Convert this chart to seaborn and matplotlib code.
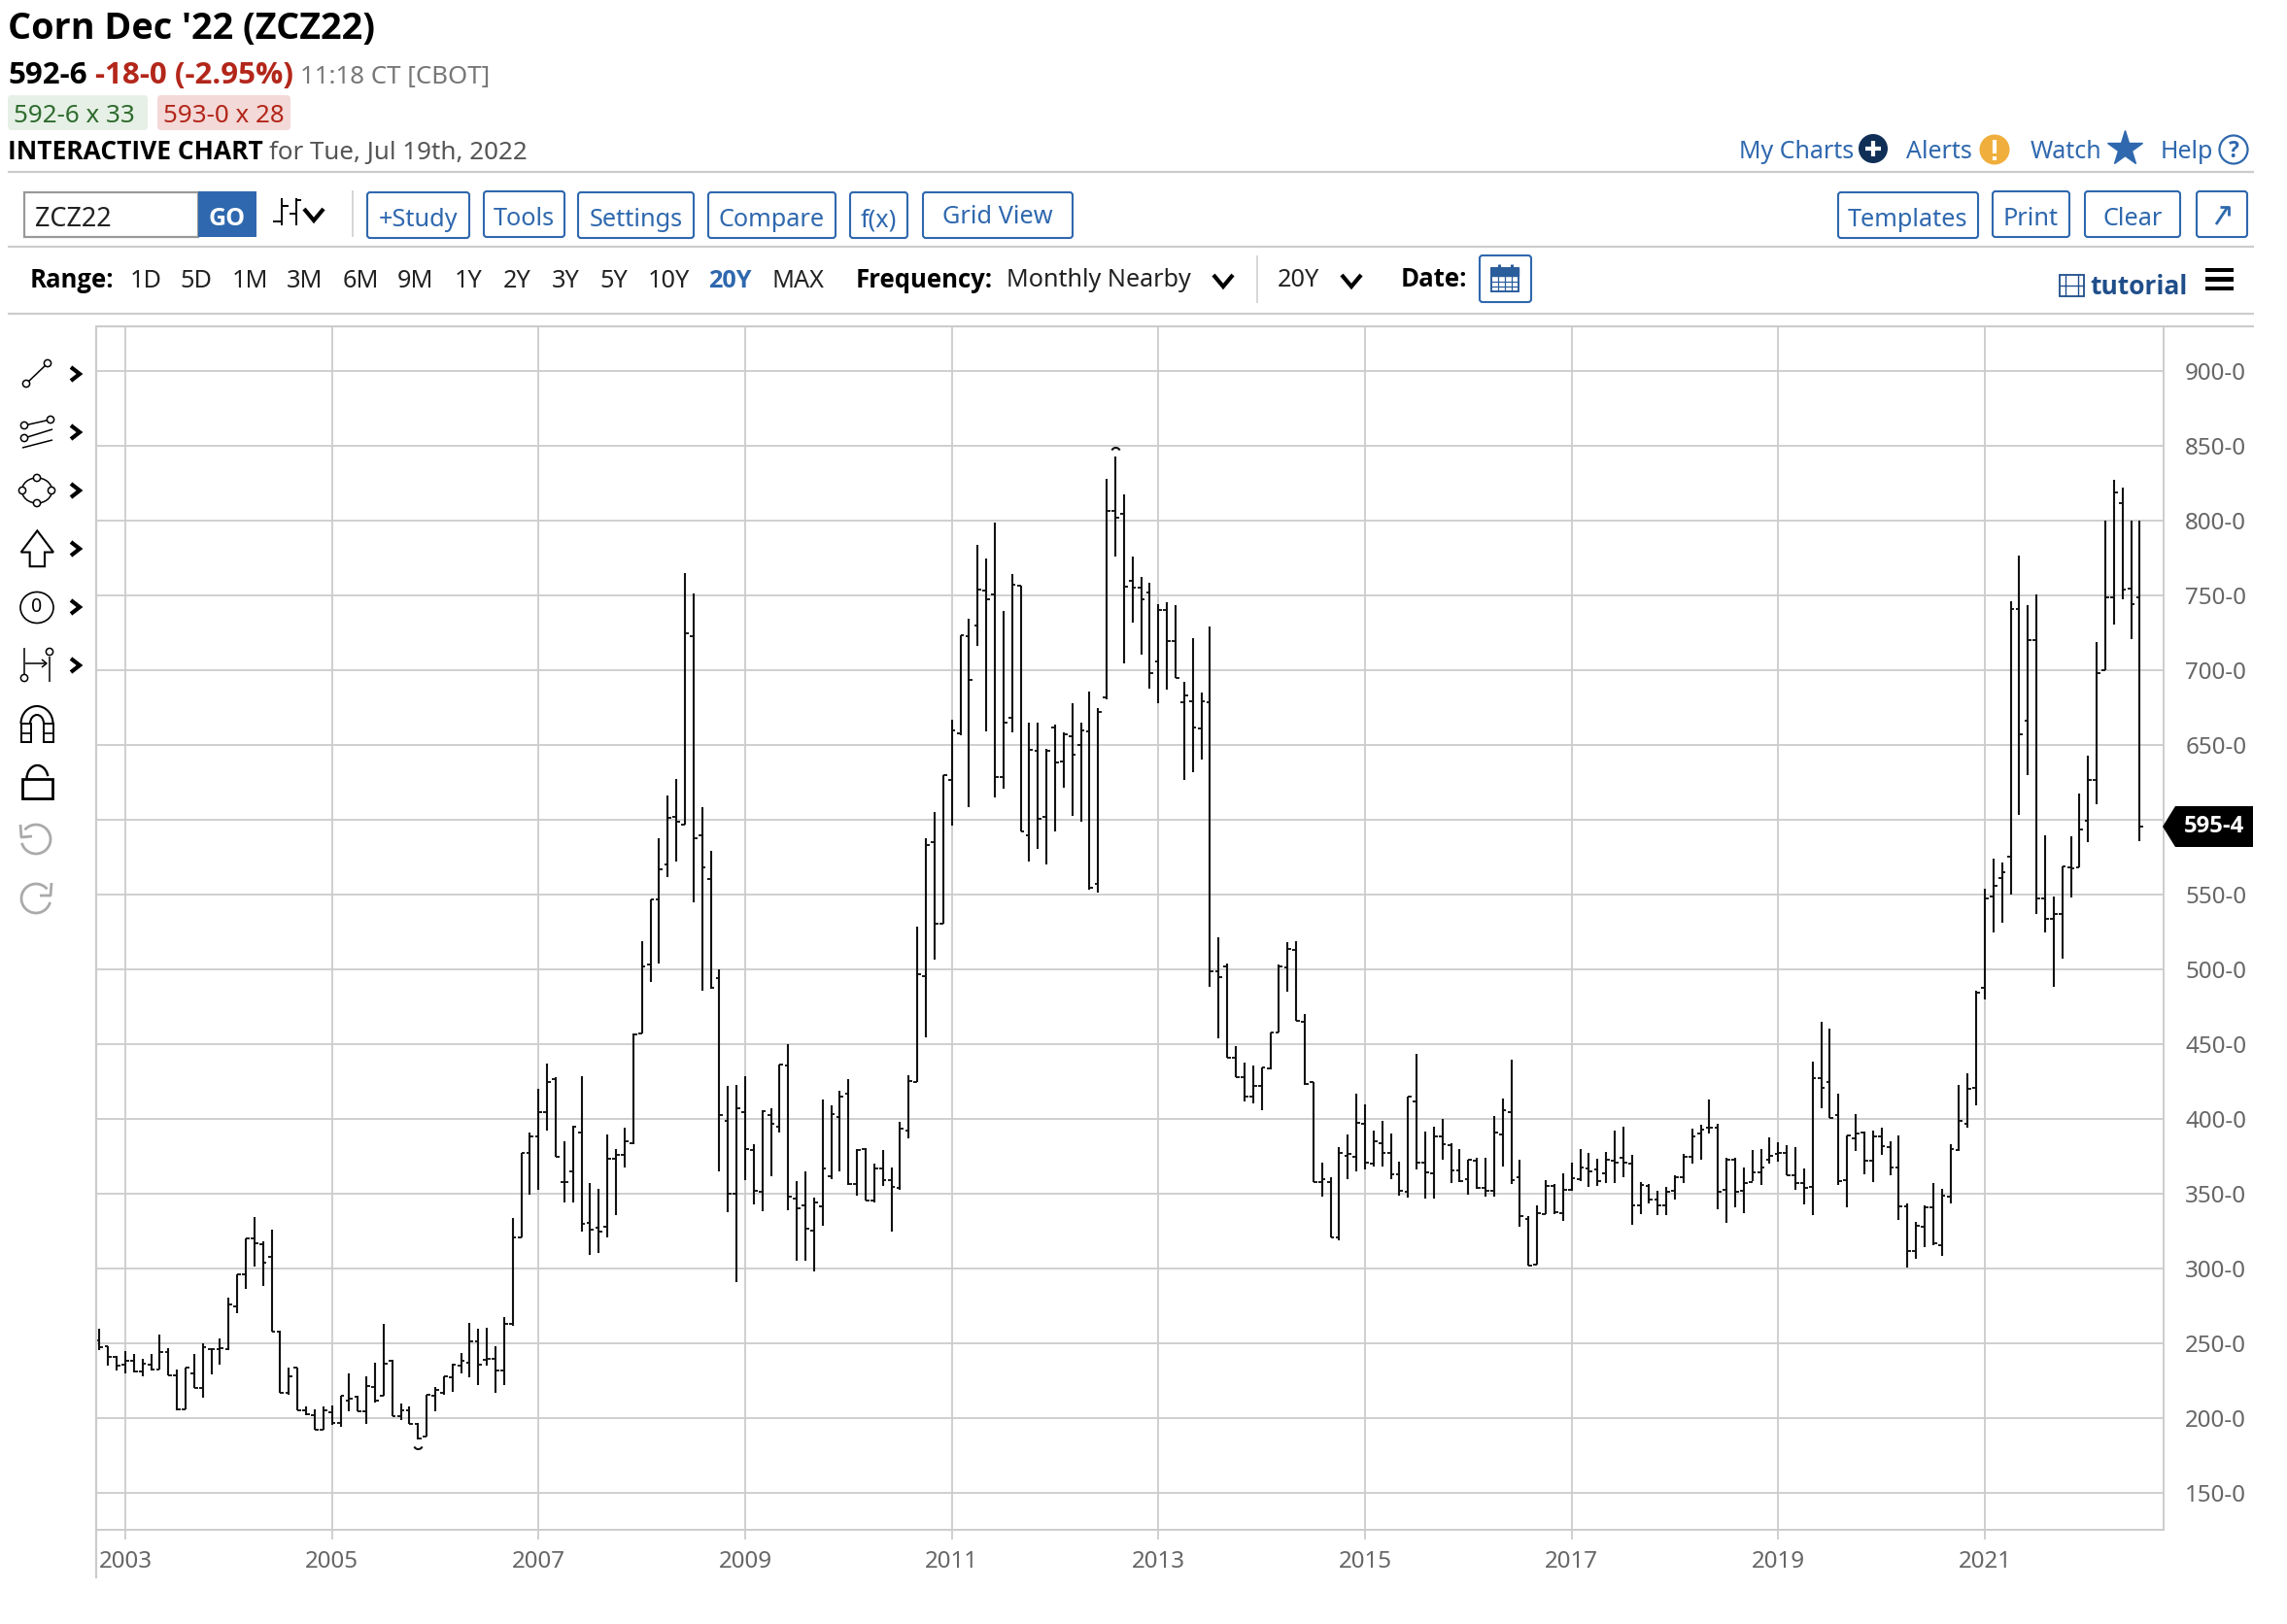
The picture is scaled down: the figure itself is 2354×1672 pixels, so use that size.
import numpy as np
import pandas as pd
import seaborn as sns
import matplotlib
matplotlib.use("Agg")
import matplotlib.pyplot as plt
from matplotlib import font_manager
from matplotlib import patheffects as pe
from matplotlib.path import Path
from matplotlib.patches import Circle, Ellipse, FancyBboxPatch, Polygon, Rectangle, Arc

opens = [252,248,241,235.7,238,231,236,232.5,244,228.6,
206,230,220,246,246,246,274.7,296,320,316,
307.6,258,217,233.5,205.4,202,192.4,204,196.7,212,
214,204.7,221,214.7,238,201,205.4,196,187.4,215,
216.7,227,235,237,251,239,239.6,232,262.8,320.8,
377,388,404.6,426.5,357.6,365,390.7,330.5,327,327.8,
373.5,375.8,384,457,503.3,547,570,602,597,722.5,
589.4,560.6,494,399,350.3,404.6,379,351,402.3,394.7,
435.4,346.7,342.4,325.5,341.7,362,401.3,416.6,356.6,380,
345.4,366.9,359.3,353.6,392.4,424.8,495.7,585,530.8,626.5,
658,722.5,730,753.3,750.6,628.8,668,756.4,589.7,646,
602,662,639,655.8,649.7,659.3,557.2,681.9,806.5,804.8,
760,755,751.7,705.7,740,719.3,678.7,679,661,678.4,
499,501.9,441,428,415,422,433.8,458,501,513,
465,424.7,358,357.6,320.8,375.3,374.5,397,370,383.5,
377.5,363,351.5,412,370.6,363.4,388.5,382.5,365.8,359.7,
372.3,354,352,389.6,404.8,360.8,333,302.4,336.4,355,
337,352.6,360,367,366,363.6,372.3,373.8,370,342.4,
355.4,346.3,342,352,361.3,374.9,390,394,394.4,352.8,
373,352,357.6,364,373,376.4,377,362.4,357.4,354.3,
427,424.7,402.4,359,387.3,391,372,388.5,381.4,367.3,
341.8,311.9,328,341,315.9,348,379,396.5,420.6,487.7,
549,560.8,575.4,740.6,666.4,720,547.3,534,536.9,568,
568,599.5,626.5,700,748.7,812,754.3,748.5]

highs = [259.5,248,241.5,245,243,239.4,243,255.6,246.5,232.5,
234,243,250,246.5,253,280.7,296,320,334.6,318,
326,258.4,234,233.5,208,206,208,208.6,214.7,229.7,
214.7,227.7,237,262.8,239,209.7,208,196.7,215.8,221,
228,236.4,243.7,263.9,259.5,260.6,248,267.5,333.5,377,
391,420,437,428,385,395.7,428.5,357,353.3,389.7,
380,394,457,519,547,587.7,616,627,765,751,
608.6,579.5,500,421.9,423,428.8,383,405.6,407.3,436.4,
450.3,358.6,365,347.7,413,409,418.9,426.5,379.8,380.8,
370,379,367.5,398,429.5,528.8,587.7,605,629.8,667,
723.5,734.4,783.8,775,799,739.6,764.5,756.4,665,665,
647.7,663.6,658.4,678,665,685.4,675,828,843,817.8,
775.8,762.5,758.7,744,745.7,743.6,692,721.6,684.8,729.4,
521.6,503.6,449,437.5,436,434.6,458,503,518,519,
470,424.7,370.6,360.8,381.4,389.4,417,410,392,399,
390,371.6,415,443.5,391.8,395,400,383.5,380,373,
373.8,374,402,413.9,439.4,373,334.8,342.4,359.3,356.5,
363.4,371,380,377.5,373.4,377.7,392,394.8,376,358,
356.5,352,354.3,362.5,376.6,393.7,396,412.8,397,374,
373.8,367.3,379,379.7,387.9,384.6,382.5,381,366.7,438.3,
464.7,460.4,417,389,403,391.8,392,394.4,385.3,389,
343.5,331,342.4,357,353,383,422.5,430.7,485.6,553.8,
574,571.7,746.4,776.6,743.4,750.6,589.3,548.7,569,589,
617.6,642.7,718.6,800,827,822,800,800]

lows = [245.5,235,232,230,230.7,228,232,232.5,228.6,205.4,
206,220,213.4,229,235.7,245.5,270,286.6,301,288,
258,217,215.6,205.4,201.7,192,192,195.7,194,204.3,
204.3,196,210.4,214.7,201,199,196,186,187.4,204.8,
215.6,217.7,230,227,222,235,217,222,262,320.6,
349.4,352.6,392.4,374.8,344.4,344.4,324.5,309,310.6,321,
336,367.5,383.4,457,491.7,504,562,572,597,544.7,
485.8,486.8,365,337.7,290.7,359.3,342.7,338.4,361.6,390.7,
338.7,305.3,305.3,298,328.5,360,365,356,349,345.4,
344.4,355,325,352.6,386.8,424.8,454.6,506.6,530.8,596,
656.6,608.6,716,659,615,620.7,658.4,592,572,580.4,
570,592,621.6,602.8,599,553.5,551,680.5,776,704.8,
732,710.6,687.4,678,687,695,626.5,632,640.4,488,
454,441,428,411.4,410.6,406,433,457.8,485,465.6,
423,357.6,348,320.8,318.6,359.7,365,366,368,368,
359.7,349,347.6,366,347,347,372.7,357,357.6,349.4,
353,348,348,368,356.5,327.7,302,302.4,336.4,336.6,
331.6,352,358.7,354.3,355,357,357,360.8,329.4,336.6,
343.5,336,336,346,357,370,372.7,390.5,339.6,330.5,
341,337,358.3,355.8,370,371.6,362.4,352.8,342.9,336,
407.4,400.9,355.8,340.7,378.8,363,357.6,376,362.4,332.7,
300.6,306.3,314.3,315.5,308.2,343.5,378.5,394,409.4,479.6,
524.8,531.3,550,603,630,537,524.4,488,507.4,548,
568,585,610.7,700,730.6,747.6,721,585.8]

closes = [247.6,240.7,235,238,231.4,236.3,232.5,244,228.6,206,
233.5,220,247.6,246,246.5,276,296,320,317,304,
258,217,228,205.4,202.6,192.4,205,196.7,214.7,213,
204.7,221.6,212,236.4,201.5,205.4,196,186.6,215.6,219,
228,236,238,251,235.7,239.4,232,262.8,320.8,377,
388,404.5,425,374.8,357.6,394.7,330,326,324.5,373.5,
375.8,385,456.3,501.7,547,567,601,599,725,587.7,
568.5,487.7,402.3,350.3,407.3,379.8,351.7,405,396.7,436.4,
348.3,340,326.8,344.4,366.6,403.3,415,356.6,379,345.4,
366.9,359.3,354.3,393.4,425.5,496.7,582.8,530.5,629.8,659.6,
723.5,693.7,754,747.7,628.8,665,757,592,646.8,600.7,
646,638.4,657,643.3,660,554.3,672.3,806.5,802,755.8,
755.5,747.7,698,740,719.3,695,683,662,679,499,
494.6,441,428,415,422,434.6,458,501.9,513.5,465.6,
423.6,357.6,359.7,320.8,377.5,376.4,397.6,370.6,385,377,
363,352,415,371,364.5,388.5,383,365.6,358.7,372.7,
354,352,391,405.6,359.3,335.3,302,337,355.4,337.4,
352.6,360.4,367.3,364.7,358.7,372.7,371,371,342.4,355.8,
346.3,342,351.5,361.3,374.9,388.5,392.9,394.4,351,373,
351.5,357,364,367.3,375.5,377,362.4,357.4,353.9,427.5,
421,400.9,358.7,389,390.5,372,388.5,382,367.3,341.3,
311.9,328.6,341,316.7,349,379.6,399,420,484.6,547.3,
555.7,564.7,740.6,657,720.4,547.3,534,536.9,569,567.7,
593.7,626.5,698,749,818.8,754,744,595.6]

month_index = np.arange(len(opens)) - 3   # months after Jan 2003 (first bar Oct 2002)
year_ticks = list(range(0, 217, 24))
year_labels = [str(2003 + m // 12) for m in year_ticks]
price_ticks = list(range(150, 901, 50))
price_labels = [f"{p}-0" for p in price_ticks]
last_price_label = "595-4"
extreme_low = (34, 182.5)
extreme_high = (115, 845.8)

GRID = "#cccccc"
BLUE = "#2f68ae"
INK = "#111111"
W, H = 2354, 1672

sns.set_theme(style="white")
plt.rcParams["font.family"] = ["Noto Sans", "DejaVu Sans"]

# a family that really ships a bold face and looks like the reference's Noto Sans
_bold_names = {f.name for f in font_manager.fontManager.ttflist
               if (f.weight if isinstance(f.weight, int) else 700 if f.weight == "bold" else 400) >= 700}
BOLD_FAMILY = next((n for n in ("Noto Sans", "Open Sans", "Lato", "Roboto") if n in _bold_names), None)

fig = plt.figure(figsize=(W / 100, H / 100), dpi=100, facecolor="white")
ax = fig.add_axes([99 / W, 1 - 1575 / H, (2227 - 99) / W, (1575 - 336) / H])

bars = pd.DataFrame({"m": month_index, "o": opens, "h": highs, "l": lows, "c": closes})
stems = pd.concat([
    bars.assign(x=bars.m.astype(float), y=bars.h),
    bars.assign(x=bars.m.astype(float), y=bars.l),
])
tick_off = 0.42
open_ticks = pd.concat([
    bars.assign(x=bars.m - tick_off, y=bars.o),
    bars.assign(x=bars.m.astype(float), y=bars.o),
])
close_ticks = pd.concat([
    bars.assign(x=bars.m.astype(float), y=bars.c),
    bars.assign(x=bars.m + tick_off, y=bars.c),
])
sns.lineplot(data=stems, x="x", y="y", units="m", estimator=None, color=INK,
             linewidth=1.5, ax=ax, legend=False, solid_capstyle="butt", zorder=3)
for frame in (open_ticks, close_ticks):
    sns.lineplot(data=frame, x="x", y="y", units="m", estimator=None, color=INK,
                 linewidth=1.35, ax=ax, legend=False, solid_capstyle="butt", zorder=3)

ax.plot([extreme_low[0]], [extreme_low[1]], marker=Path.arc(205, 335), ms=6.5, mfc="none",
        mec=INK, mew=1.5, ls="none", zorder=3)
ax.plot([extreme_high[0]], [extreme_high[1]], marker=Path.arc(25, 155), ms=6.5, mfc="none",
        mec=INK, mew=1.5, ls="none", zorder=3)

ax.set_xlim((99 - 129) / 8.861, (2227 - 129) / 8.861)
ax.set_ylim(150 - 38 / 1.54, 150 + (1537 - 336) / 1.54)
ax.set_xlabel("")
ax.set_ylabel("")
ax.set_xticks(year_ticks, year_labels)
ax.yaxis.tick_right()
ax.set_yticks(price_ticks, price_labels)
ax.grid(True, color=GRID, linewidth=1.3, zorder=0)
ax.set_axisbelow(True)
for s in ax.spines.values():
    s.set_color(GRID)
    s.set_linewidth(1.4)
ax.tick_params(axis="x", length=7.2, width=1.3, color=GRID, labelcolor="#666666",
               labelsize=17.4, pad=8, bottom=True)
ax.tick_params(axis="y", length=0, labelcolor="#666666", labelsize=17.4, pad=16, right=False)

ui = fig.add_axes([0, 0, 1, 1], zorder=5, facecolor="none")
ui.set_xlim(0, W)
ui.set_ylim(H, 0)
ui.axis("off")


def t(x, y, s, size=18, color="#222222", weight="normal", ha="left", va="baseline"):
    if weight == "bold" and BOLD_FAMILY:
        return ui.text(x, y, s, fontsize=size, color=color, fontweight="bold", family=BOLD_FAMILY, ha=ha, va=va)
    txt = ui.text(x, y, s, fontsize=size, color=color, ha=ha, va=va)
    if weight == "bold":
        txt.set_path_effects([pe.withStroke(linewidth=size * 0.05, foreground=color)])
    return txt


def ln(xs, ys, lw=1.4, color="black", **kw):
    ui.plot(xs, ys, lw=lw, color=color, solid_capstyle=kw.pop("cap", "butt"), **kw)


def button(x0, y0, x1, y1, label, base, cx=None):
    ui.add_patch(FancyBboxPatch((x0 + 2, y0 + 2), x1 - x0 - 4, y1 - y0 - 4,
                                boxstyle="round,pad=2,rounding_size=3", fc="white", ec=BLUE, lw=1.5))
    t((x0 + x1) / 2 if cx is None else cx, base, label, size=18.2, color=BLUE, ha="center")


def chev_down(cx, cy, hw=10, hh=6, lw=3, color="black"):
    ln([cx - hw, cx, cx + hw], [cy - hh, cy + hh, cy - hh], lw=lw, color=color, solid_joinstyle="miter")


def small_circle(cx, cy, r=3.6, lw=1.1):
    ui.add_patch(Circle((cx, cy), r, fc="white", ec="black", lw=lw, zorder=6))


# header
t(8, 40, "Corn Dec '22 (ZCZ22)", size=27.2, color="black", weight="bold")
t(8, 86, "592-6", size=22.6, color="black", weight="bold")
t(98, 86, "-18-0 (-2.95%)", size=22.6, color="#b3261a", weight="bold")
t(309, 86, "11:18 CT [CBOT]", size=18.6, color="#777777")
ui.add_patch(FancyBboxPatch((10, 100), 140, 32, boxstyle="round,pad=2,rounding_size=4", fc="#e6f0e6", ec="none"))
ui.add_patch(FancyBboxPatch((164, 100), 133, 32, boxstyle="round,pad=2,rounding_size=4", fc="#f3d9d7", ec="none"))
t(14, 126, "592-6 x 33", size=18.7, color="#2e6b2e")
t(168, 126, "593-0 x 28", size=18.7, color="#b3261a")
t(8, 164, "INTERACTIVE CHART", size=19, color="black", weight="bold")
t(277, 164, "for Tue, Jul 19th, 2022", size=18.7, color="#555555")

for y in (177, 254, 323):
    ln([8, 2320], [y, y], lw=1.6, color=GRID)
ln([99, 2320], [336, 336], lw=1.6, color=GRID)
ln([99, 99], [336, 1625], lw=1.6, color=GRID)

# top-right links
t(1790, 163, "My Charts", size=18, color=BLUE)
ui.add_patch(Circle((1928, 153), 15, fc="#0f2f57", ec="none"))
ln([1920, 1936], [153, 153], lw=3, color="white")
ln([1928, 1928], [145, 161], lw=3, color="white")
t(1962, 163, "Alerts", size=18, color=BLUE)
ui.add_patch(Circle((2053, 154), 15.5, fc="#f0ae3c", ec="none"))
ln([2053, 2053], [144, 158], lw=3, color="white")
ln([2053, 2053], [161, 165], lw=3, color="white")
t(2090, 163, "Watch", size=18, color=BLUE)
ui.plot([2187], [153], marker="*", ms=27, color=BLUE, mec=BLUE)
t(2224, 163, "Help", size=18, color=BLUE)
ui.add_patch(Circle((2299, 154), 14.5, fc="white", ec=BLUE, lw=1.6))
t(2299, 162, "?", size=16.5, color=BLUE, weight="bold", ha="center")

# toolbar row
ui.add_patch(Rectangle((25, 198), 179, 46, fc="white", ec="#999999", lw=1.6))
t(36, 233, "ZCZ22", size=19.5, color="#222222")
ui.add_patch(Rectangle((204, 197), 60, 47, fc=BLUE, ec="none"))
t(234, 232, "GO", size=18, color="white", weight="bold", ha="center")
ln([290, 290], [204, 232], lw=1.4)
ln([305, 305], [204, 232], lw=1.4)
ln([281, 290], [228, 228], lw=1.4)
ln([290, 297], [212, 212], lw=1.4)
ln([298, 305], [220, 220], lw=1.4)
ln([305, 310], [206, 206], lw=1.4)
chev_down(323, 221)
ln([363, 363], [196, 244], lw=1.1, color=GRID)
for x0, y0, x1, y1, lab, base in [
    (378, 198, 483, 245, "+Study", 233), (498, 197, 581, 244, "Tools", 232),
    (595, 198, 714, 245, "Settings", 233), (729, 198, 860, 245, "Compare", 233),
    (875, 198, 934, 245, "f(x)", 233), (950, 198, 1104, 245, "Grid View", 230),
    (1892, 198, 2036, 245, "Templates", 233), (2051, 197, 2130, 244, "Print", 232),
    (2146, 197, 2244, 244, "Clear", 232),
]:
    button(x0, y0, x1, y1, lab, base)
ui.add_patch(FancyBboxPatch((2263, 199), 48, 43, boxstyle="round,pad=2,rounding_size=3", fc="white", ec=BLUE, lw=1.5))
ln([2281, 2293], [231, 213], lw=2, color=BLUE)
ln([2285, 2294, 2294], [213, 213, 222], lw=2, color=BLUE)

# range row
t(31, 296, "Range:", size=18.5, color="black", weight="bold")
for cx, lab in [(150, "1D"), (202, "5D"), (257, "1M"), (314, "3M"), (371, "6M"), (427, "9M"), (482, "1Y"),
                (532, "2Y"), (582, "3Y"), (632, "5Y"), (688, "10Y"), (821, "MAX")]:
    t(cx, 296, lab, size=18.2, color="#222222", ha="center")
t(751, 296, "20Y", size=18.2, color=BLUE, weight="bold", ha="center")
t(881, 296, "Frequency:", size=18.5, color="black", weight="bold")
t(1036, 295, "Monthly Nearby", size=18.1, color="#222222")
chev_down(1259, 289)
ln([1294, 1294], [263, 312], lw=1.1, color=GRID)
t(1315, 295, "20Y", size=18.2, color="#222222")
chev_down(1391, 289)
t(1442, 295, "Date:", size=18.5, color="black", weight="bold")
ui.add_patch(FancyBboxPatch((1525, 265), 49, 44, boxstyle="round,pad=2,rounding_size=3", fc="white", ec=BLUE, lw=1.5))
CAL = "#2a5d9c"
ui.add_patch(Rectangle((1535, 276), 28, 24, fc="white", ec=CAL, lw=1.4))
ui.add_patch(Rectangle((1535, 276), 28, 8, fc=CAL, ec=CAL, lw=1))
for xx in (1542, 1549, 1556):
    ln([xx, xx], [284, 300], lw=0.9, color=CAL)
for yy in (289.5, 295):
    ln([1535, 1563], [yy, yy], lw=0.9, color=CAL)
for xx in (1543, 1556):
    ln([xx, xx], [272, 279], lw=2.2, color=CAL)
# tutorial
NAVY = "#1f4e8a"
ui.add_patch(Rectangle((2120, 283), 25, 22, fc="white", ec=NAVY, lw=1.3))
ln([2126, 2126], [283, 305], lw=1, color=NAVY)
ln([2139, 2139], [283, 305], lw=1, color=NAVY)
ln([2120, 2145], [294, 294], lw=1, color=NAVY)
t(2151, 303, "tutorial", size=19, color=NAVY, weight="bold")
for yy in (278, 287.5, 297):
    ui.add_patch(Rectangle((2270, yy - 2.2), 29, 4.4, fc="black", ec="none"))

# side icons
for yy in (385, 445, 505, 565, 625, 685):
    ln([73, 82, 73], [yy - 7, yy, yy + 7], lw=3, solid_joinstyle="miter")
ln([27, 49], [395, 374], lw=1.1)
small_circle(27, 395)
small_circle(49, 374)
ln([25, 52], [438, 432], lw=1.1)
ln([25, 54], [451, 442], lw=1.1)
ln([23, 54], [461, 453], lw=1.1)
small_circle(25, 438)
small_circle(52, 432)
small_circle(25, 451)
ui.add_patch(Ellipse((38, 505), 31, 26, fc="none", ec="black", lw=1.1))
for c in [(38, 492), (23, 505), (53, 505), (38, 518)]:
    small_circle(*c)
arrow_xs = np.array([115, 165, 138, 138, 92, 92, 65]) / 3
arrow_ys = 340 + np.array([522, 578, 578, 615, 615, 578, 578]) / 2.529
ui.add_patch(Polygon(np.c_[arrow_xs, arrow_ys], closed=True, fc="white", ec="black", lw=1.5))
ui.add_patch(Ellipse((38, 625.5), 34, 32, fc="none", ec="black", lw=1.2))
t(38, 625.5, "0", size=14, color="black", ha="center", va="center")
ln([25, 25], [667, 694], lw=1.1)
small_circle(25, 698)
ln([26, 47], [683, 683], lw=1.1)
ln([43, 48, 43], [679, 683, 687], lw=1.1)
ln([51, 51], [676, 702], lw=1.1)
small_circle(51, 671)
ui.add_patch(Arc((38, 745), 33, 36, theta1=180, theta2=360, ec="black", lw=1.5))
ui.add_patch(Arc((38, 745), 14, 18, theta1=180, theta2=360, ec="black", lw=1.5))
for x0 in (22, 45):
    ui.add_patch(Rectangle((x0, 745), 10, 19, fc="white", ec="black", lw=1.4))
    ln([x0, x0 + 10], [755, 755], lw=1.2)
ui.add_patch(Rectangle((23, 802), 31, 19.5, fc="white", ec="black", lw=2))
ui.add_patch(Arc((38.5, 802), 22, 28, theta1=180, theta2=345, ec="black", lw=1.7))
UG = "#aaaaaa"
ui.add_patch(Arc((37, 864), 30, 30, theta1=-140, theta2=165, ec=UG, lw=2))
ln([21, 22, 33], [849, 862, 861], lw=2, color=UG)
ui.add_patch(Arc((37, 925), 30, 30, theta1=15, theta2=320, ec=UG, lw=2))
ln([53, 52, 41], [909, 922, 922], lw=2, color=UG)

# last price tag
ui.add_patch(Polygon([(2226, 851), (2239, 830), (2319, 830), (2319, 872), (2239, 872)], closed=True,
                     fc="black", ec="none"))
t(2279, 851, last_price_label, size=17.2, color="white", weight="bold", ha="center", va="center")

fig.savefig("out.png", dpi=100)
